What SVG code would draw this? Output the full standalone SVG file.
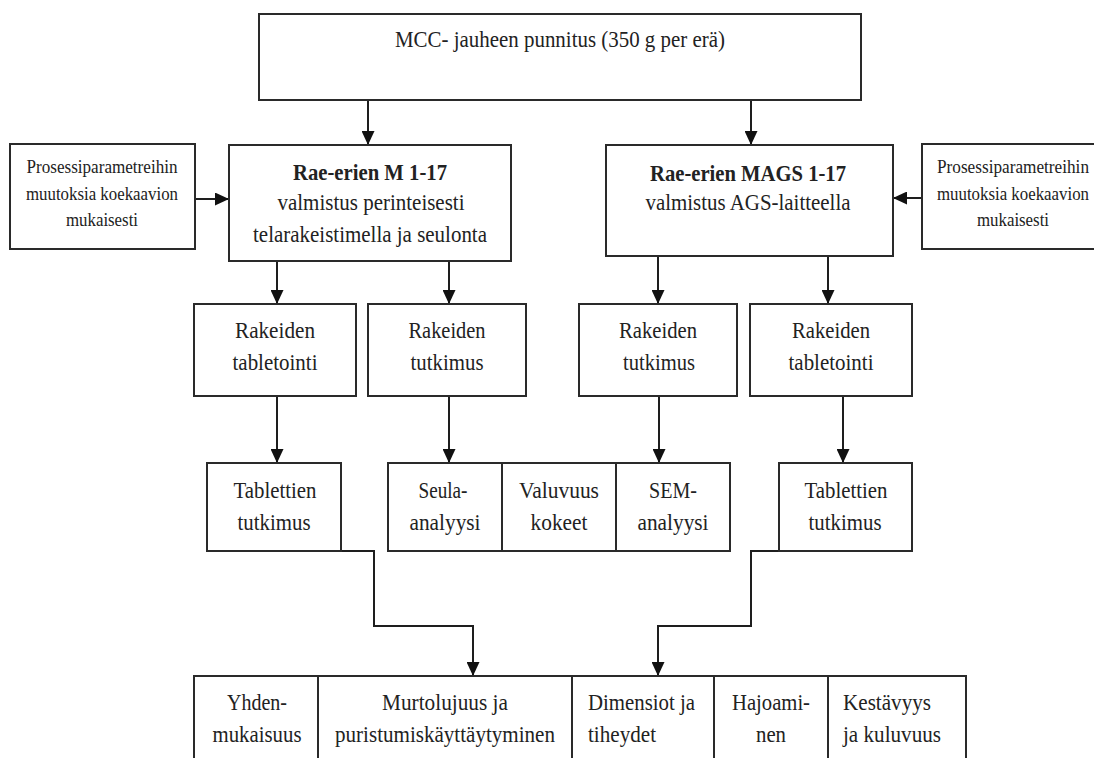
<svg xmlns="http://www.w3.org/2000/svg" width="1094" height="758" viewBox="0 0 1094 758">
<style>
.b{fill:#fff;stroke:#2a2a2a;stroke-width:2}
.c{fill:none;stroke:#1e1e1e;stroke-width:2}
.t{font-family:"Liberation Serif","Times New Roman",serif;font-size:23px;fill:#222;text-anchor:middle}
.s{font-size:18px}
.bold{font-weight:bold}
.l{text-anchor:start}
</style>
<defs>
<marker id="ah" markerUnits="userSpaceOnUse" markerWidth="14" markerHeight="13" refX="14" refY="6.5" orient="auto">
<path d="M0,0 L14,6.5 L0,13 z" fill="#111"/>
</marker>
</defs>
<rect width="1094" height="758" fill="#fff"/>
<g id="connectors">
<path class="c" d="M368,100 V145" marker-end="url(#ah)"/>
<path class="c" d="M751,100 V145" marker-end="url(#ah)"/>
<path class="c" d="M195,199 H229" marker-end="url(#ah)"/>
<path class="c" d="M922,198 H893" marker-end="url(#ah)"/>
<path class="c" d="M277,261 V304" marker-end="url(#ah)"/>
<path class="c" d="M449,261 V304" marker-end="url(#ah)"/>
<path class="c" d="M658,256 V304" marker-end="url(#ah)"/>
<path class="c" d="M828,256 V304" marker-end="url(#ah)"/>
<path class="c" d="M277,396 V463" marker-end="url(#ah)"/>
<path class="c" d="M449,396 V463" marker-end="url(#ah)"/>
<path class="c" d="M659,396 V463" marker-end="url(#ah)"/>
<path class="c" d="M843,396 V463" marker-end="url(#ah)"/>
<path class="c" d="M300,551 H374 V626 H473 V676" marker-end="url(#ah)"/>
<path class="c" d="M820,551 H751 V626 H658 V676" marker-end="url(#ah)"/>
</g>
<g id="n-top">
<rect class="b" x="259" y="14" width="602" height="86"/>
<text class="t" x="560" y="47" textLength="330" lengthAdjust="spacingAndGlyphs">MCC- jauheen punnitus (350 g per erä)</text>
</g>
<g id="n-side-left">
<rect class="b" x="10" y="144" width="185" height="105"/>
<text class="t s" x="102" y="173" textLength="151" lengthAdjust="spacingAndGlyphs">Prosessiparametreihin</text>
<text class="t s" x="102" y="200" textLength="152" lengthAdjust="spacingAndGlyphs">muutoksia koekaavion</text>
<text class="t s" x="102" y="226" textLength="72" lengthAdjust="spacingAndGlyphs">mukaisesti</text>
</g>
<g id="n-m">
<rect class="b" x="229" y="145" width="282" height="116"/>
<text class="t bold" x="370" y="180" textLength="154" lengthAdjust="spacingAndGlyphs">Rae-erien M 1-17</text>
<text class="t" x="371" y="210" textLength="187" lengthAdjust="spacingAndGlyphs">valmistus perinteisesti</text>
<text class="t" x="370" y="242" textLength="234" lengthAdjust="spacingAndGlyphs">telarakeistimella ja seulonta</text>
</g>
<g id="n-mags">
<rect class="b" x="606" y="145" width="287" height="111"/>
<text class="t bold" x="748" y="181" textLength="196" lengthAdjust="spacingAndGlyphs">Rae-erien MAGS 1-17</text>
<text class="t" x="748" y="210" textLength="205" lengthAdjust="spacingAndGlyphs">valmistus AGS-laitteella</text>
</g>
<g id="n-side-right">
<rect class="b" x="922" y="144" width="185" height="105"/>
<text class="t s" x="1013" y="173" textLength="152" lengthAdjust="spacingAndGlyphs">Prosessiparametreihin</text>
<text class="t s" x="1013" y="200" textLength="152" lengthAdjust="spacingAndGlyphs">muutoksia koekaavion</text>
<text class="t s" x="1013" y="226" textLength="72" lengthAdjust="spacingAndGlyphs">mukaisesti</text>
</g>
<g id="n-tabletointi-m">
<rect class="b" x="194" y="304" width="162" height="92"/>
<text class="t" x="275" y="338" textLength="80" lengthAdjust="spacingAndGlyphs">Rakeiden</text>
<text class="t" x="275" y="370" textLength="85" lengthAdjust="spacingAndGlyphs">tabletointi</text>
</g>
<g id="n-tutkimus-m">
<rect class="b" x="368" y="304" width="158" height="92"/>
<text class="t" x="447" y="338" textLength="77" lengthAdjust="spacingAndGlyphs">Rakeiden</text>
<text class="t" x="447" y="370" textLength="73" lengthAdjust="spacingAndGlyphs">tutkimus</text>
</g>
<g id="n-tutkimus-mags">
<rect class="b" x="579" y="304" width="158" height="92"/>
<text class="t" x="658" y="338" textLength="78" lengthAdjust="spacingAndGlyphs">Rakeiden</text>
<text class="t" x="659" y="370" textLength="72" lengthAdjust="spacingAndGlyphs">tutkimus</text>
</g>
<g id="n-tabletointi-mags">
<rect class="b" x="750" y="304" width="162" height="92"/>
<text class="t" x="831" y="338" textLength="78" lengthAdjust="spacingAndGlyphs">Rakeiden</text>
<text class="t" x="831" y="370" textLength="85" lengthAdjust="spacingAndGlyphs">tabletointi</text>
</g>
<g id="n-tablettien-m">
<rect class="b" x="207" y="463" width="134" height="88"/>
<text class="t" x="275" y="498" textLength="83" lengthAdjust="spacingAndGlyphs">Tablettien</text>
<text class="t" x="274" y="530" textLength="73" lengthAdjust="spacingAndGlyphs">tutkimus</text>
</g>
<g id="n-seula">
<rect class="b" x="388" y="463" width="114" height="88"/>
<text class="t" x="443" y="498" textLength="49" lengthAdjust="spacingAndGlyphs">Seula-</text>
<text class="t" x="445" y="530" textLength="71" lengthAdjust="spacingAndGlyphs">analyysi</text>
</g>
<g id="n-valuvuus">
<rect class="b" x="502" y="463" width="114" height="88"/>
<text class="t" x="559" y="498" textLength="80" lengthAdjust="spacingAndGlyphs">Valuvuus</text>
<text class="t" x="559" y="530" textLength="57" lengthAdjust="spacingAndGlyphs">kokeet</text>
</g>
<g id="n-sem">
<rect class="b" x="616" y="463" width="114" height="88"/>
<text class="t" x="673" y="498" textLength="48" lengthAdjust="spacingAndGlyphs">SEM-</text>
<text class="t" x="673" y="530" textLength="71" lengthAdjust="spacingAndGlyphs">analyysi</text>
</g>
<g id="n-tablettien-mags">
<rect class="b" x="779" y="463" width="133" height="88"/>
<text class="t" x="846" y="498" textLength="83" lengthAdjust="spacingAndGlyphs">Tablettien</text>
<text class="t" x="845" y="530" textLength="73" lengthAdjust="spacingAndGlyphs">tutkimus</text>
</g>
<g id="n-yhdenmukaisuus">
<rect class="b" x="194" y="676" width="124" height="110"/>
<text class="t" x="257" y="710" textLength="60" lengthAdjust="spacingAndGlyphs">Yhden-</text>
<text class="t" x="257" y="742" textLength="89" lengthAdjust="spacingAndGlyphs">mukaisuus</text>
</g>
<g id="n-murtolujuus">
<rect class="b" x="318" y="676" width="254" height="110"/>
<text class="t" x="445" y="710" textLength="126" lengthAdjust="spacingAndGlyphs">Murtolujuus ja</text>
<text class="t" x="445" y="742" textLength="220" lengthAdjust="spacingAndGlyphs">puristumiskäyttäytyminen</text>
</g>
<g id="n-dimensiot">
<rect class="b" x="572" y="676" width="142" height="110"/>
<text class="t l" x="588" y="710" textLength="107" lengthAdjust="spacingAndGlyphs">Dimensiot ja</text>
<text class="t l" x="588" y="742" textLength="68" lengthAdjust="spacingAndGlyphs">tiheydet</text>
</g>
<g id="n-hajoaminen">
<rect class="b" x="714" y="676" width="114" height="110"/>
<text class="t" x="771" y="710" textLength="78" lengthAdjust="spacingAndGlyphs">Hajoami-</text>
<text class="t" x="771" y="742" textLength="30" lengthAdjust="spacingAndGlyphs">nen</text>
</g>
<g id="n-kestavyys">
<rect class="b" x="828" y="676" width="138" height="110"/>
<text class="t l" x="843" y="710" textLength="88" lengthAdjust="spacingAndGlyphs">Kestävyys</text>
<text class="t l" x="843" y="742" textLength="98" lengthAdjust="spacingAndGlyphs">ja kuluvuus</text>
</g>
</svg>
